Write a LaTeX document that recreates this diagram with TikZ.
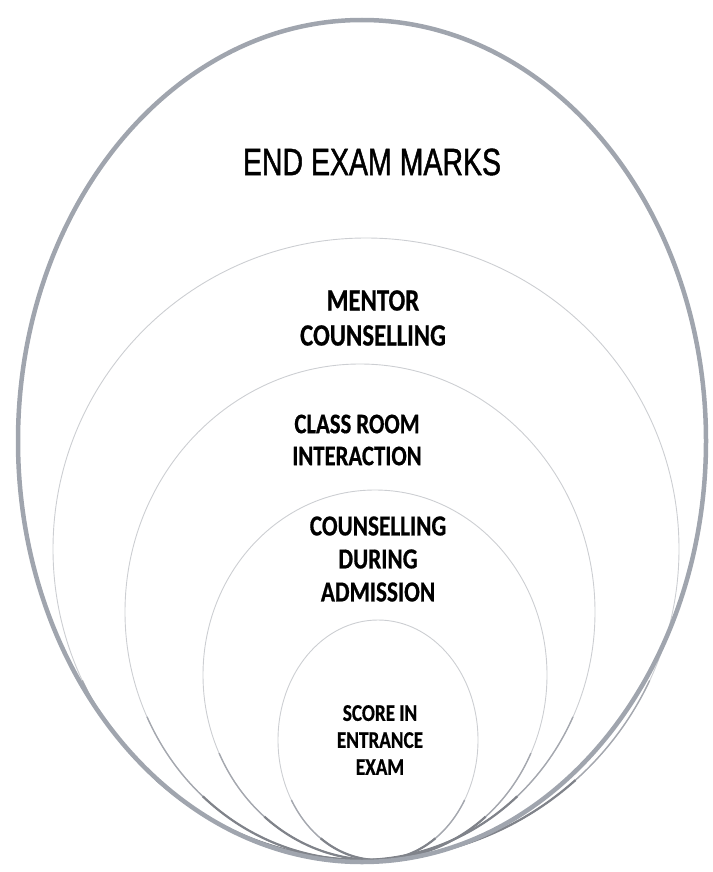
\documentclass[tikz,border=0pt]{standalone}
\usepackage{fontspec}
\usepackage{tikz}
\usetikzlibrary{positioning}
\newfontfamily\headfont[FakeStretch=0.75, FakeBold=1.2]{Liberation Sans}
\newfontfamily\labfont[FakeStretch=0.8, FakeBold=0.6]{Carlito}
\definecolor{rimgray}{RGB}{160,165,174}
\definecolor{linegray}{RGB}{204,206,210}
\definecolor{midrim}{RGB}{165,168,175}
\definecolor{darkrim}{RGB}{128,131,138}
\tikzstyle{outer}=[draw=rimgray, line width=4.5pt]
\tikzstyle{inner}=[draw=linegray, line width=0.9pt]
\tikzstyle{midrim}=[draw=midrim, line width=1.4pt]
\tikzstyle{lowrim}=[draw=darkrim, line width=2.2pt]
\tikzstyle{lab}=[align=center, inner sep=0pt, font=\labfont\bfseries]

\begin{document}
\begin{tikzpicture}[x=1pt, y=1pt]
        \useasboundingbox (0,0) rectangle (712,-872);

        % Les ellipses
        \draw[inner] (366,-549) ellipse [x radius=313, y radius=311];
        \draw[inner] (360,-612) ellipse [x radius=235, y radius=248];
        \draw[inner] (375,-675) ellipse [x radius=172, y radius=185];
        \draw[inner] (378,-740) ellipse [x radius=100, y radius=120];

        % Le bas plus sombre
        \draw[midrim] (366,-549) ++(205:313 and 311) arc [start angle=205, end angle=335, x radius=313, y radius=311];
        \draw[midrim] (360,-612) ++(205:235 and 248) arc [start angle=205, end angle=335, x radius=235, y radius=248];
        \draw[midrim] (375,-675) ++(205:172 and 185) arc [start angle=205, end angle=335, x radius=172, y radius=185];
        \draw[midrim] (378,-740) ++(210:100 and 120) arc [start angle=210, end angle=330, x radius=100, y radius=120];
        \draw[lowrim] (366,-549) ++(228:313 and 311) arc [start angle=228, end angle=312, x radius=313, y radius=311];
        \draw[lowrim] (360,-612) ++(228:235 and 248) arc [start angle=228, end angle=312, x radius=235, y radius=248];
        \draw[lowrim] (375,-675) ++(230:172 and 185) arc [start angle=230, end angle=310, x radius=172, y radius=185];
        \draw[lowrim] (378,-740) ++(235:100 and 120) arc [start angle=235, end angle=305, x radius=100, y radius=120];
        \draw[outer] (362,-441) ellipse [x radius=344, y radius=421];

        % Les textes
        \node[inner sep=0pt, font=\headfont\fontsize{38}{42}\selectfont] (end) at (372,-162) {END EXAM MARKS};
        \node[lab, font=\labfont\bfseries\fontsize{31}{35}\selectfont] (mentor) at (373,-318) {MENTOR\\COUNSELLING};
        \node[lab, font=\labfont\bfseries\fontsize{28.4}{32}\selectfont] (classroom) at (357,-440) {CLASS ROOM\\INTERACTION};
        \node[lab, font=\labfont\bfseries\fontsize{29}{33}\selectfont] (admission) at (378,-559) {COUNSELLING\\DURING\\ADMISSION};
        \node[lab, font=\labfont\bfseries\fontsize{24}{27}\selectfont] (score) at (380,-740) {SCORE IN\\ENTRANCE\\EXAM};
    \end{tikzpicture}
\end{document}
